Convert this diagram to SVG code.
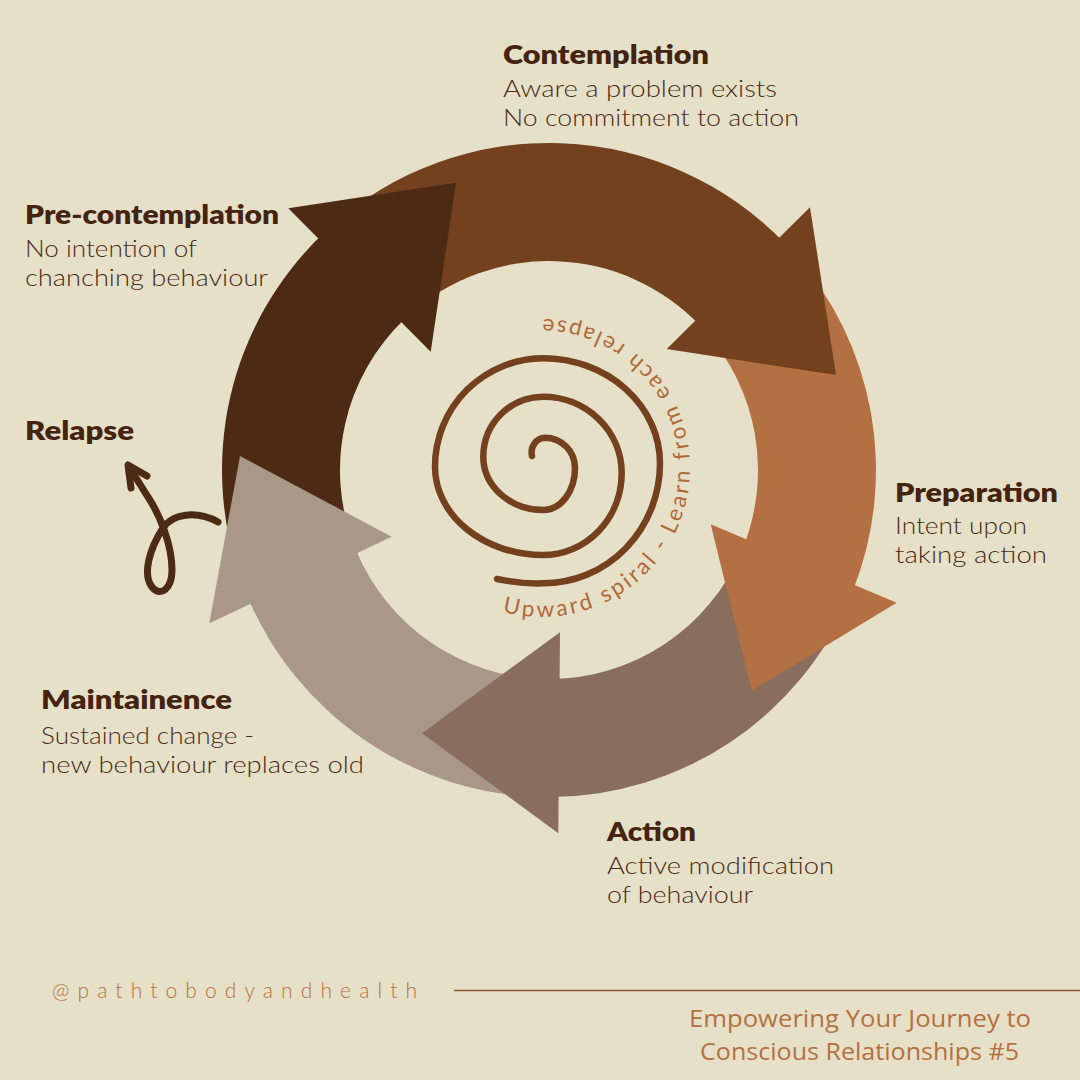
<svg xmlns="http://www.w3.org/2000/svg" width="1080" height="1080" viewBox="0 0 1080 1080">
<style>
.h{font-family:"Lato","Liberation Sans",sans-serif;font-weight:800;font-size:27px;fill:#44230F}
.b{font-family:"Lato","Liberation Sans",sans-serif;font-weight:300;font-size:24px;fill:#4A2A16}
.foot{font-family:"Open Sans","Liberation Sans",sans-serif;font-size:24px;fill:#B5703F}
.handle{font-family:"Lato","Liberation Sans",sans-serif;font-weight:300;font-size:21px;fill:#B5703F}
.curve{font-family:"Lato","Liberation Sans",sans-serif;font-size:22.5px;fill:#B06A3A}
.c1{fill:#4C2A14}.c2{fill:#74411E}.c3{fill:#B37042}.c4{fill:#896E5E}.c5{fill:#A99788}
.ln{fill:none;stroke-linecap:round;stroke-linejoin:round}
</style>
<rect width="1080" height="1080" fill="#E6E0C9"/>
<g id="connectors">
  <g id="cycle-bands">
    <path class="c1" d="M243.72,587.19 A327,327 0 0 1 323.91,232.80 L405.13,318.40 A209,209 0 0 0 353.88,544.90 Z"/>
    <path class="c2" d="M330.19,226.99 A327,327 0 0 1 786.20,244.91 L700.60,326.13 A209,209 0 0 0 409.15,314.68 Z"/>
    <path class="c3" d="M792.01,251.19 A327,327 0 0 1 852.19,592.50 L742.78,548.29 A209,209 0 0 0 704.32,330.15 Z"/>
    <path class="c4" d="M850.00,597.77 A327,327 0 0 1 551.85,796.99 L550.82,678.99 A209,209 0 0 0 741.38,551.66 Z"/>
    <path class="c5" d="M543.29,796.95 A327,327 0 0 1 246.89,595.14 L355.91,549.98 A209,209 0 0 0 545.35,678.97 Z"/>
  </g>
  <g id="cycle-heads">
    <polygon class="c1" points="288.3,208.3 456,182.7 430.7,351.7"/>
    <polygon class="c2" points="810,207.3 836,375 666.7,349"/>
    <polygon class="c3" points="896.7,602.7 751.7,690.7 710.7,524.3"/>
    <polygon class="c4" points="560,632.2 422,733.2 558.3,833.3"/>
    <polygon class="c5" points="209.3,623.3 240,456 391.7,536.7"/>
  </g>
  <g id="relapse-arrow" class="ln" stroke="#4C2A14" stroke-width="7">
    <path d="M218,522 C196,510 172,514 163,528 C150,548 142,574 152,587 C161,598 172,588 172,570 C172,545 160,515 148,497 C141,486 135,476 129,467"/>
    <path d="M147,476 L128,465 L131,488"/>
  </g>
</g>
<g id="spiral">
  <path class="ln" stroke="#74401D" stroke-width="6.5" d="M532,456 C530,447 536,438 545,437.7 A30,30.3 0 0 1 575,468 A31.7,42 0 0 1 543.3,510 A60,53.3 0 0 1 483.3,456.7 A60,60 0 0 1 543.3,396.7 A78.4,76.3 0 0 1 621.7,473 A78.4,82 0 0 1 543.3,555 A108.3,88.3 0 0 1 435,466.7 A108.3,108.4 0 0 1 543.3,358.3 A116.7,105 0 0 1 660,463.3 A116.7,120 0 0 1 543.3,583.3 C528,584 512,582 497,579"/>
  <defs><path id="tp" d="M502.4,611.9 A149,149 0 1 0 541,319"/></defs>
  <text class="curve"><textPath href="#tp" textLength="505" lengthAdjust="spacing">Upward spiral - Learn from each relapse</textPath></text>
</g>
<g id="node-contemplation">
  <text class="h" x="503" y="64" textLength="206" lengthAdjust="spacingAndGlyphs">Contemplation</text>
  <text class="b" x="503" y="97" textLength="274" lengthAdjust="spacingAndGlyphs">Aware a problem exists</text>
  <text class="b" x="503" y="126" textLength="296" lengthAdjust="spacingAndGlyphs">No commitment to action</text>
</g>
<g id="node-precontemplation">
  <text class="h" x="25" y="224" textLength="254" lengthAdjust="spacingAndGlyphs">Pre-contemplation</text>
  <text class="b" x="25" y="257" textLength="172" lengthAdjust="spacingAndGlyphs">No intention of</text>
  <text class="b" x="25" y="286" textLength="243" lengthAdjust="spacingAndGlyphs">chanching behaviour</text>
</g>
<g id="node-relapse">
  <text class="h" x="25" y="440" textLength="109" lengthAdjust="spacingAndGlyphs">Relapse</text>
</g>
<g id="node-preparation">
  <text class="h" x="895" y="502" textLength="163" lengthAdjust="spacingAndGlyphs">Preparation</text>
  <text class="b" x="895" y="534" textLength="132" lengthAdjust="spacingAndGlyphs">Intent upon</text>
  <text class="b" x="895" y="563" textLength="152" lengthAdjust="spacingAndGlyphs">taking action</text>
</g>
<g id="node-maintainence">
  <text class="h" x="41" y="709" textLength="191" lengthAdjust="spacingAndGlyphs">Maintainence</text>
  <text class="b" x="41" y="744" textLength="213" lengthAdjust="spacingAndGlyphs">Sustained change -</text>
  <text class="b" x="41" y="773" textLength="323" lengthAdjust="spacingAndGlyphs">new behaviour replaces old</text>
</g>
<g id="node-action">
  <text class="h" x="607" y="841" textLength="89" lengthAdjust="spacingAndGlyphs">Action</text>
  <text class="b" x="607" y="874" textLength="227" lengthAdjust="spacingAndGlyphs">Active modification</text>
  <text class="b" x="607" y="903" textLength="146" lengthAdjust="spacingAndGlyphs">of behaviour</text>
</g>
<g id="footer">
  <text class="handle" x="52" y="998" textLength="365" lengthAdjust="spacing">@pathtobodyandhealth</text>
  <line x1="454" y1="990.5" x2="1080" y2="990.5" stroke="#8E5A35" stroke-width="1.6"/>
  <text class="foot" x="689" y="1027" textLength="342" lengthAdjust="spacingAndGlyphs">Empowering Your Journey to</text>
  <text class="foot" x="700" y="1060" textLength="319" lengthAdjust="spacingAndGlyphs">Conscious Relationships #5</text>
</g>
</svg>
